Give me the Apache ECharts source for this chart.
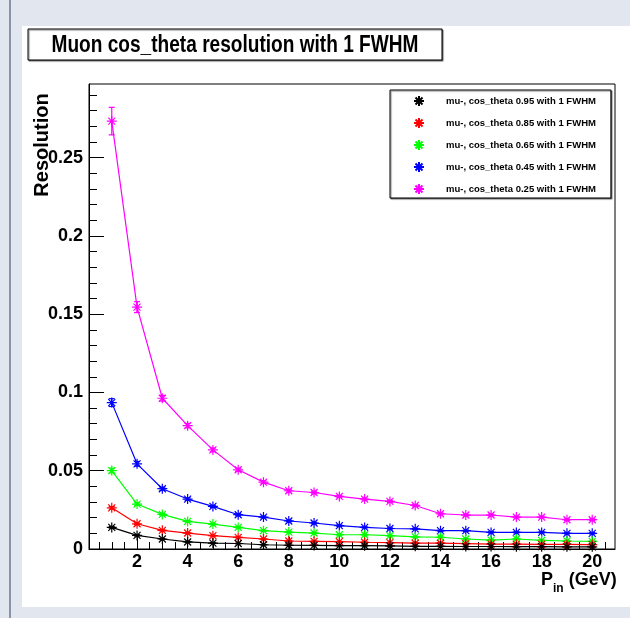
<!DOCTYPE html>
<html><head><meta charset="utf-8">
<script src="https://cdn.jsdelivr.net/npm/echarts@6/dist/echarts.min.js"></script>
<style>
html,body{margin:0;padding:0;width:630px;height:618px;overflow:hidden;background:#e2e6ef;}
#bar{position:absolute;left:9px;top:0;width:2px;height:618px;background:#8a92a6;}
#pad{position:absolute;left:22px;top:26px;width:608px;height:581px;background:#fff;}
#chart{position:absolute;left:0;top:0;width:630px;height:618px;}
</style></head><body>
<div id="bar"></div><div id="pad"></div><div id="chart"></div>
<script>
// ---- data ----
const pin = [1,2,3,4,5,6,7,8,9,10,11,12,13,14,15,16,17,18,19,20];
const names = [
  'mu-, cos_theta 0.95 with 1 FWHM',
  'mu-, cos_theta 0.85 with 1 FWHM',
  'mu-, cos_theta 0.65 with 1 FWHM',
  'mu-, cos_theta 0.45 with 1 FWHM',
  'mu-, cos_theta 0.25 with 1 FWHM'
];
const colors = ['#000000','#ff0000','#00ff00','#0000ff','#ff00ff'];
const res095 = [0.0138,0.0087,0.0064,0.0045,0.0038,0.0035,0.0027,0.0024,0.0023,0.0022,0.0021,0.0020,0.0017,0.0017,0.0016,0.0016,0.0015,0.0015,0.0014,0.0014];
const res085 = [0.0263,0.0161,0.0119,0.0102,0.0085,0.0074,0.0064,0.0051,0.0049,0.0047,0.0043,0.0041,0.0037,0.0037,0.0034,0.0031,0.0031,0.0030,0.0029,0.0028];
const res065 = [0.0501,0.0287,0.0221,0.0176,0.0159,0.0138,0.0117,0.0108,0.0102,0.0091,0.0091,0.0085,0.0077,0.0075,0.0064,0.0057,0.0064,0.0055,0.0051,0.0049];
const res045 = [0.0935,0.0544,0.0385,0.0319,0.0272,0.0219,0.0204,0.0179,0.0166,0.0149,0.0138,0.0131,0.0129,0.0117,0.0117,0.0106,0.0106,0.0106,0.0100,0.0100];
const res025 = [0.2733,0.1545,0.0963,0.0788,0.0633,0.0506,0.0427,0.0372,0.0361,0.0336,0.0319,0.0304,0.0278,0.0225,0.0217,0.0217,0.0204,0.0204,0.0187,0.0187];
const err095 = [0.0005,0.0004,0.0003,0.0003,0.0002,0.0002,0.0002,0.0002,0.0002,0.0002,0.0002,0.0002,0.0002,0.0002,0.0002,0.0002,0.0002,0.0002,0.0002,0.0002];
const err085 = [0.0008,0.0005,0.0004,0.0003,0.0003,0.0003,0.0002,0.0002,0.0002,0.0002,0.0002,0.0002,0.0002,0.0002,0.0002,0.0002,0.0002,0.0002,0.0002,0.0002];
const err065 = [0.0015,0.0008,0.0006,0.0005,0.0005,0.0004,0.0004,0.0003,0.0003,0.0003,0.0003,0.0003,0.0003,0.0003,0.0003,0.0003,0.0003,0.0003,0.0003,0.0003];
const err045 = [0.0025,0.0015,0.0010,0.0008,0.0007,0.0006,0.0006,0.0005,0.0005,0.0005,0.0004,0.0004,0.0004,0.0004,0.0004,0.0004,0.0004,0.0004,0.0004,0.0004];
const err025 = [0.0088,0.0035,0.0018,0.0014,0.0012,0.0010,0.0009,0.0008,0.0008,0.0007,0.0007,0.0007,0.0006,0.0006,0.0006,0.0006,0.0006,0.0006,0.0005,0.0005];
const xMajor = [2,4,6,8,10,12,14,16,18,20];
const xMinor = [0.5,1,1.5,2.5,3,3.5,4.5,5,5.5,6.5,7,7.5,8.5,9,9.5,10.5,11,11.5,12.5,13,13.5,14.5,15,15.5,16.5,17,17.5,18.5,19,19.5,20.5];
const yMajor = [0,0.05,0.1,0.15,0.2,0.25];
const yMinor = [0.01,0.02,0.03,0.04,0.06,0.07,0.08,0.09,0.11,0.12,0.13,0.14,0.16,0.17,0.18,0.19,0.21,0.22,0.23,0.24,0.26,0.27,0.28,0.29];
const yLabels = ['0','0.05','0.1','0.15','0.2','0.25'];
const titleText = 'Muon cos_theta resolution with 1 FWHM';
const yTitle = 'Resolution';

// ---- chart ----
const FONT = "'Liberation Sans',Arial,Helvetica,sans-serif";
const star = 'path://M5,0L5,10M0,5L10,5M1.5,1.5L8.5,8.5M1.5,8.5L8.5,1.5';
const allRes = [res095,res085,res065,res045,res025];
const allErr = [err095,err085,err065,err045,err025];

function renderErr(params, api){
  const x = api.value(0), lo = api.value(1), hi = api.value(2);
  const a = api.coord([x, lo]), b = api.coord([x, hi]);
  const c = api.visual('color');
  const w = 3;
  const st = {stroke:c, lineWidth:1.2};
  return {type:'group', children:[
    {type:'line', shape:{x1:a[0],y1:a[1],x2:b[0],y2:b[1]}, style:st},
    {type:'line', shape:{x1:a[0]-w,y1:a[1],x2:a[0]+w,y2:a[1]}, style:st},
    {type:'line', shape:{x1:b[0]-w,y1:b[1],x2:b[0]+w,y2:b[1]}, style:st}
  ]};
}

const series = [];
for (let k = allRes.length-1; k >= 0; k--) {
  series.push({
    type:'custom', name:'err'+k, renderItem:renderErr, silent:true,
    itemStyle:{color:colors[k]}, z:3,
    encode:{x:0,y:[1,2]},
    data: pin.map((x,i)=>[x, allRes[k][i]-allErr[k][i], allRes[k][i]+allErr[k][i]])
  });
}
for (let k = allRes.length-1; k >= 0; k--) {
  series.push({
    type:'line', name:names[k], symbol:star, symbolSize:10, showAllSymbol:true,
    lineStyle:{color:colors[k], width:1.2},
    itemStyle:{color:colors[k], borderColor:colors[k], borderWidth:1.2},
    emphasis:{disabled:true}, animation:false, z:4,
    data: pin.map((x,i)=>[x, allRes[k][i]])
  });
}

const chart = echarts.init(document.getElementById('chart'), null, {renderer:'canvas'});
chart.setOption({
  animation:false,
  backgroundColor:'transparent',
  legend:{
    orient:'vertical', left:390, top:90, padding:[5,15,3,23], itemGap:10,
    itemWidth:10, itemHeight:10, backgroundColor:'#fff', borderColor:'#000', borderWidth:1,
    shadowColor:'rgba(0,0,0,0.5)', shadowOffsetX:1, shadowOffsetY:1, shadowBlur:1,
    selectedMode:false,
    textStyle:{fontFamily:FONT, fontWeight:'bold', fontSize:9.5, lineHeight:11, padding:[0,0,0,17], color:'#000'},
    data:names.map(n=>({name:n, icon:star}))
  },
  grid:{left:89, right:15, top:84, bottom:69, show:true, borderColor:'#000', borderWidth:1, backgroundColor:'transparent'},
  xAxis:[
    {type:'value', min:0.1, max:20.9, position:'bottom',
     axisLine:{onZero:false, lineStyle:{color:'#000', width:1}},
     axisTick:{inside:true, length:12, customValues:xMajor, lineStyle:{color:'#000'}},
     axisLabel:{customValues:xMajor, fontFamily:FONT, fontWeight:'bold', fontSize:18, color:'#000', margin:4},
     splitLine:{show:false}},
    {type:'value', min:0.1, max:20.9, position:'bottom',
     axisLine:{show:false},
     axisTick:{inside:true, length:7, customValues:xMinor, lineStyle:{color:'#000'}},
     axisLabel:{show:false}, splitLine:{show:false}}
  ],
  yAxis:[
    {type:'value', min:0, max:0.297, position:'left',
     axisLine:{onZero:false, lineStyle:{color:'#000', width:1}},
     axisTick:{inside:true, length:15, customValues:yMajor, lineStyle:{color:'#000'}},
     axisLabel:{customValues:yMajor, formatter:(v)=>{const i=yMajor.findIndex(t=>Math.abs(t-v)<1e-9); return i>=0?yLabels[i]:'';},
       fontFamily:FONT, fontWeight:'bold', fontSize:18, color:'#000', margin:6},
     splitLine:{show:false}},
    {type:'value', min:0, max:0.297, position:'left',
     axisLine:{show:false},
     axisTick:{inside:true, length:8, customValues:yMinor, lineStyle:{color:'#000'}},
     axisLabel:{show:false}, splitLine:{show:false}}
  ],
  graphic:[
    {type:'rect', shape:{x:28, y:29, width:414, height:31},
     style:{fill:'#fff', stroke:'#000', lineWidth:1, shadowColor:'rgba(0,0,0,0.5)', shadowOffsetX:1, shadowOffsetY:1, shadowBlur:1}, z:10},
    {type:'text', x:235, y:45.5, scaleX:0.83, z:11,
     style:{text:titleText, font:"bold 23px 'Liberation Sans',Arial,sans-serif", fill:'#000', align:'center', verticalAlign:'middle'}},
    {type:'text', x:42, y:145, rotation:Math.PI/2, z:11,
     style:{text:yTitle, font:"bold 20px 'Liberation Sans',Arial,sans-serif", fill:'#000', align:'center', verticalAlign:'middle'}},
    {type:'text', left:541, top:571, z:11,
     style:{text:'{p|P}{s|in}{p| (GeV)}', rich:{
       p:{fontFamily:FONT, fontWeight:'bold', fontSize:18, fill:'#000', verticalAlign:'bottom', lineHeight:20},
       s:{fontFamily:FONT, fontWeight:'bold', fontSize:12, fill:'#000', verticalAlign:'bottom', lineHeight:12, padding:[0,0,-6,0]}
     }}}
  ],
  series:series
});
</script></body></html>
